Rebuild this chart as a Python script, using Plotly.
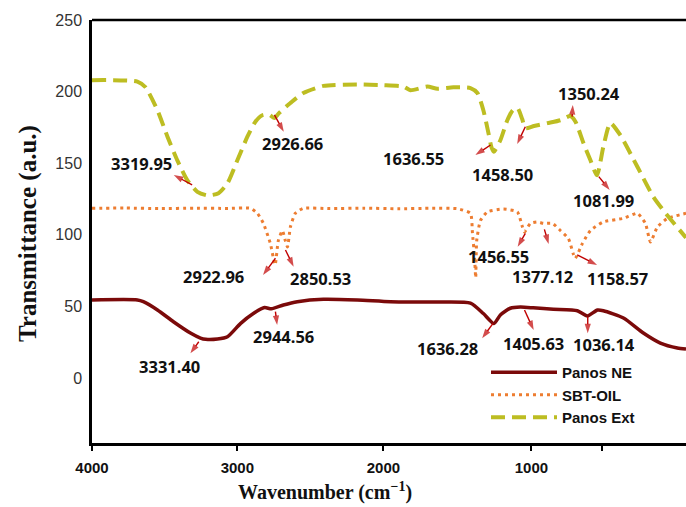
import plotly.graph_objects as go

# ---- FTIR spectra (wavenumber in cm-1, transmittance in a.u.) ----
wn_ne = [4000, 3733, 3698, 3615, 3521, 3421, 3362, 3331, 3262, 3203, 3127, 3051, 2985, 2945,
         2874, 2792, 2639, 2439, 2245, 2000, 1774, 1698, 1636, 1598, 1539, 1480, 1405, 1286,
         1145, 1086, 1027, 992, 874, 757, 657, 557, 506]
tr_ne = [54.5, 54.5, 53.3, 47.5, 39.3, 31.4, 27.9, 27.0, 27.2, 28.8, 38.0, 45.0, 49.2, 48.3,
         51.0, 53.3, 55.0, 54.5, 53.3, 53.0, 52.3, 45.0, 38.0, 44.0, 48.7, 49.5, 49.0, 48.0,
         47.0, 43.3, 47.5, 47.0, 41.9, 31.4, 24.4, 21.0, 20.3]

wn_sbt = [4000, 3800, 3600, 3400, 3200, 3068, 3027, 2992, 2951, 2923, 2904, 2880, 2863, 2850,
          2833, 2804, 2757, 2600, 2400, 2200, 2000, 1850, 1774, 1762, 1750, 1743, 1737, 1715,
          1674, 1580, 1498, 1468, 1456, 1421, 1380, 1345, 1292, 1245, 1198, 1170, 1158, 1115,
          1068, 992, 874, 792, 745, 715, 674, 615, 506]
tr_sbt = [118.5, 118.7, 118.3, 118.6, 118.4, 118.5, 115.0, 108.0, 94.0, 79.0, 96.0, 103.0, 96.0, 91.5,
          105.5, 115.0, 118.5, 118.3, 118.6, 118.2, 118.5, 118.2, 115.0, 101.0, 84.5, 70.0, 96.0, 110.0,
          116.0, 118.0, 116.0, 105.5, 102.0, 108.0, 109.0, 108.0, 108.0, 103.0, 97.5, 87.0, 83.5, 94.0,
          103.0, 109.0, 111.5, 115.0, 108.0, 95.0, 105.5, 111.5, 115.0]

wn_ext = [4000, 3733, 3685, 3615, 3556, 3498, 3439, 3380, 3320, 3256, 3203, 3145, 3086, 3039,
          2998, 2960, 2927, 2900, 2833, 2757, 2639, 2439, 2286, 2168, 2127, 2027, 1968, 1874,
          1774, 1733, 1698, 1668, 1650, 1637, 1598, 1557, 1525, 1497, 1470, 1450, 1400, 1321,
          1245, 1186, 1156, 1109, 1068, 1030, 992, 951, 892, 792, 698, 639, 506]
tr_ext = [208.0, 207.0, 203.0, 187.0, 168.5, 152.0, 138.0, 130.0, 127.5, 129.0, 136.0, 152.0, 168.5, 179.0,
          183.5, 184.0, 181.5, 185.0, 192.0, 199.0, 204.0, 205.0, 204.5, 203.5, 201.0, 203.5, 202.0, 203.0,
          202.5, 199.0, 187.0, 171.0, 161.0, 158.0, 166.0, 180.0, 187.0, 188.5, 181.0, 174.5, 176.0, 178.0,
          180.0, 183.0, 179.0, 164.0, 152.0, 141.5, 161.5, 178.0, 169.5, 147.5, 126.5, 117.0, 98.0]

# ---- peak labels: text and its centre (wavenumber, transmittance) ----
peak_text = ["3319.95", "2926.66", "1636.55", "1458.50", "1350.24", "1081.99",
             "2922.96", "2850.53", "1456.55", "1377.12", "1158.57",
             "3331.40", "2944.56", "1636.28", "1405.63", "1036.14"]
label_wn = [3708, 2823, 2108, 1588, 1078, 990,
            3284, 2656, 1608, 1352, 911,
            3543, 2872, 1911, 1402, 990]
label_tr = [150.0, 164.0, 153.4, 141.9, 198.8, 124.3,
            71.2, 69.6, 84.7, 70.7, 69.6,
            7.9, 28.8, 20.7, 24.2, 23.7]

# pointer arrows: tail on the curve, head towards the label
tail_wn = [3411, 2927, 1656, 1451, 1176, 1019, 2921, 2862, 1451, 1339, 1146, 3372, 2921, 1641, 1456, 1084]
tail_tr = [134.8, 183.7, 162.7, 175.5, 182.5, 140.6, 83.6, 89.4, 101.0, 103.8, 85.9, 25.3, 46.3, 38.2, 47.5, 42.8]
head_wn = [3519, 2872, 1745, 1499, 1172, 955, 2994, 2814, 1496, 1314, 1029, 3421, 2911, 1705, 1402, 1084]
head_tr = [141.8, 172.0, 155.7, 163.4, 190.6, 131.3, 71.9, 77.7, 91.7, 93.6, 78.9, 17.2, 37.0, 27.7, 33.5, 31.2]

# axis ticks
x_tick_pos = [4000, 3145, 2286, 1415]
x_tick_text = ["4000", "3000", "2000", "1000"]
x_extra_tick = [998]
y_tick_vals = [0, 50, 100, 150, 200, 250]

fig = go.Figure()
fig.add_trace(go.Scatter(x=wn_ne, y=tr_ne, mode="lines", name="Panos NE",
                         line=dict(color="#7B0A0A", width=3.5, shape="spline", smoothing=0.6)))
fig.add_trace(go.Scatter(x=wn_sbt, y=tr_sbt, mode="lines", name="SBT-OIL",
                         line=dict(color="#ED7D31", width=3, dash="3px,4px", shape="spline", smoothing=0.5)))
fig.add_trace(go.Scatter(x=wn_ext, y=tr_ext, mode="lines", name="Panos Ext",
                         line=dict(color="#BDBD22", width=4, dash="14px,7px", shape="spline", smoothing=0.6)))

# red pointer arrows: one segment per peak, arrow marker at the head end
arrow_x, arrow_y, arrow_sym, arrow_size = [], [], [], []
for tw, tt, hw, ht in zip(tail_wn, tail_tr, head_wn, head_tr):
    arrow_x += [tw, hw, None]
    arrow_y += [tt, ht, None]
    arrow_sym += ["circle", "arrow", "circle"]
    arrow_size += [0, 10, 0]
fig.add_trace(go.Scatter(x=arrow_x, y=arrow_y, mode="lines+markers", showlegend=False,
                         hoverinfo="skip", connectgaps=False,
                         line=dict(color="#C00000", width=1.4),
                         marker=dict(symbol=arrow_sym, size=arrow_size, angleref="previous",
                                     color="#C00000", line=dict(width=0))))

annotations = []
for t, w, v in zip(peak_text, label_wn, label_tr):
    annotations.append(dict(x=w, y=v, xref="x", yref="y", text=t, showarrow=False,
                            font=dict(family="Noto Sans", size=16.5, color="#111111", weight="bold")))

# axis titles
annotations.append(dict(x=(325 - 92) / 594, y=-(491 - 443) / 423, xref="paper", yref="paper",
                        text="Wavenumber (cm<sup>−1</sup>)", showarrow=False,
                        xanchor="center", yanchor="middle",
                        font=dict(family="Liberation Serif", size=20, color="#111111", weight="bold")))
annotations.append(dict(x=-(92 - 28) / 594, y=(443 - 234) / 423, xref="paper", yref="paper",
                        text="Transmittance (a.u.)", textangle=-90, showarrow=False,
                        xanchor="center", yanchor="middle",
                        font=dict(family="Liberation Serif", size=25, color="#111111", weight="bold")))

fig.update_layout(
    width=686, height=507,
    margin=dict(l=92, r=0, t=20, b=64),
    paper_bgcolor="white", plot_bgcolor="white",
    showlegend=True,
    legend=dict(x=(486 - 92) / 594, y=(443 - 356) / 423, xanchor="left", yanchor="top",
                bgcolor="rgba(255,255,255,0)", itemwidth=66, tracegroupgap=0,
                font=dict(family="Liberation Sans", size=15, color="#111111", weight="bold")),
    annotations=annotations,
    shapes=[dict(type="line", xref="paper", yref="paper", x0=0, x1=1, y0=1, y1=1,
                 line=dict(color="black", width=2.5))],
    xaxis=dict(range=[4000, 506], showgrid=False, zeroline=False, showline=True,
               linecolor="black", linewidth=2.5, ticks="outside", ticklen=5, tickwidth=1.5,
               tickcolor="black", tickvals=x_tick_pos, ticktext=x_tick_text, ticklabelstandoff=4,
               tickfont=dict(family="Liberation Sans", size=15, color="#111111", weight="bold"),
               minor=dict(tickvals=x_extra_tick, ticks="outside", ticklen=5, tickwidth=1.5,
                          tickcolor="black", showgrid=False)),
    yaxis=dict(range=[-45.4, 250], showgrid=False, zeroline=False, showline=True,
               linecolor="black", linewidth=2.5, ticks="", tickvals=y_tick_vals,
               ticklabelstandoff=4,
               tickfont=dict(family="Liberation Sans", size=16, color="#333333")),
)

fig.write_html("out.html")
